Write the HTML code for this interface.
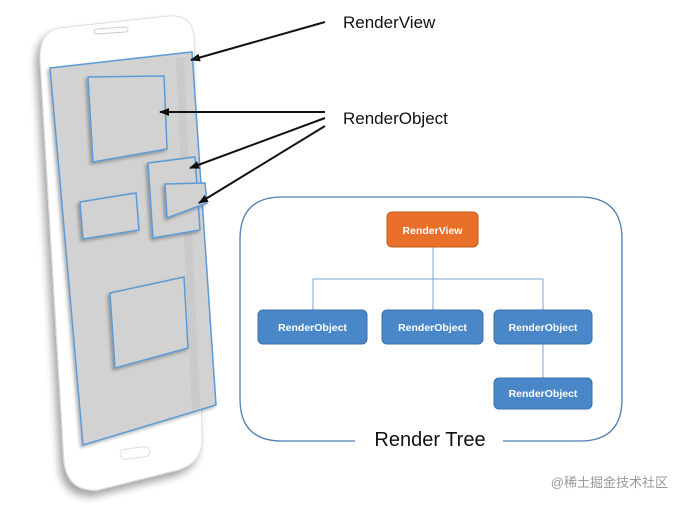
<!DOCTYPE html>
<html><head><meta charset="utf-8"><style>
html,body{margin:0;padding:0;background:#fff;}
svg{display:block;}
</style></head><body>
<svg width="681" height="505" viewBox="0 0 681 505" xmlns="http://www.w3.org/2000/svg" font-family="Liberation Sans, Arial, sans-serif">
<defs>
<filter id="sh" x="-20%" y="-20%" width="140%" height="140%"><feDropShadow dx="-4" dy="6" stdDeviation="4" flood-color="#000" flood-opacity="0.35"/></filter>
<filter id="s2" x="-20%" y="-20%" width="140%" height="140%"><feDropShadow dx="-2" dy="2" stdDeviation="1.5" flood-color="#000" flood-opacity="0.3"/></filter>
<marker id="ah" markerWidth="10" markerHeight="8" refX="9" refY="4" orient="auto" markerUnits="userSpaceOnUse"><path d="M0,0 L10,4 L0,8 Z" fill="#111"/></marker>
</defs>
<!-- phone body -->
<path d="M58,28 Q40,32 40,58 L64,462 Q68,492 98,490 L178,470 Q204,462 202,436 L194,36 Q192,14 168,16 Z" fill="#fff" stroke="#ddd" stroke-width="1" filter="url(#sh)"/>
<rect x="94" y="28" width="34" height="5" rx="2.5" fill="none" stroke="#ccc" transform="rotate(-4 111 30)"/>
<rect x="120" y="448" width="30" height="10" rx="5" fill="none" stroke="#ddd" transform="rotate(-8 135 453)"/>
<!-- screen -->
<polygon points="50,68 192,52 216,405 83,445" fill="#d2d2d2" stroke="#5b9bd5" stroke-width="1.5" filter="url(#s2)"/>
<polygon points="176,58 184,57 200,408 192,410" fill="#c4c4c4" opacity="0.6"/>
<polygon points="88,77 164,76 167,149 93,162" fill="#d2d2d2" stroke="#5b9bd5" stroke-width="1.5" filter="url(#s2)"/>
<polygon points="148,163 195,157 200,230 153,238" fill="#d2d2d2" stroke="#5b9bd5" stroke-width="1.5" filter="url(#s2)"/>
<polygon points="165,184 205,183 207,203 167,218" fill="#d2d2d2" stroke="#5b9bd5" stroke-width="1.5" filter="url(#s2)"/>
<polygon points="80,202 136,193 139,230 83,239" fill="#d2d2d2" stroke="#5b9bd5" stroke-width="1.5" filter="url(#s2)"/>
<polygon points="110,293 184,277 188,348 115,368" fill="#d2d2d2" stroke="#5b9bd5" stroke-width="1.5" filter="url(#s2)"/>
<!-- arrows -->
<g stroke="#111" stroke-width="2" fill="none">
<line x1="325" y1="22" x2="191" y2="60" marker-end="url(#ah)"/>
<line x1="325" y1="112" x2="160" y2="112" marker-end="url(#ah)"/>
<line x1="325" y1="118" x2="190" y2="168" marker-end="url(#ah)"/>
<line x1="325" y1="126" x2="199" y2="203" marker-end="url(#ah)"/>
</g>
<text x="343" y="28" font-size="17" fill="#111">RenderView</text>
<text x="343" y="124" font-size="17" fill="#111">RenderObject</text>
<!-- render tree frame -->
<path d="M355,441 L282,441 Q240,441 240,399 L240,239 Q240,197 282,197 L580,197 Q622,197 622,239 L622,399 Q622,441 580,441 L503,441" fill="none" stroke="#4f7fb0" stroke-width="1.3"/>
<text x="430" y="446" font-size="20" fill="#111" text-anchor="middle">Render Tree</text>
<g stroke="#7aa6d6" stroke-width="1" fill="none">
<line x1="433" y1="247" x2="433" y2="310"/>
<line x1="313" y1="279" x2="543" y2="279"/>
<line x1="313" y1="279" x2="313" y2="310"/>
<line x1="543" y1="279" x2="543" y2="310"/>
<line x1="543" y1="344" x2="543" y2="378"/>
</g>
<rect x="387" y="212" width="91" height="35" rx="5" fill="#e8702a" stroke="#c55a1a"/>
<text x="432.5" y="234" font-size="10.5" font-weight="bold" fill="#fff" text-anchor="middle">RenderView</text>
<g fill="#4a87c8" stroke="#3a70aa">
<rect x="258" y="310" width="109" height="34" rx="5"/>
<rect x="382" y="310" width="101" height="34" rx="5"/>
<rect x="494" y="310" width="98" height="34" rx="5"/>
<rect x="494" y="378" width="98" height="31" rx="5"/>
</g>
<g font-size="10.5" font-weight="bold" fill="#fff" text-anchor="middle">
<text x="312.5" y="331">RenderObject</text>
<text x="432.5" y="331">RenderObject</text>
<text x="543" y="331">RenderObject</text>
<text x="543" y="397">RenderObject</text>
</g>
<text x="668" y="487" font-size="13" fill="#999" text-anchor="end" font-family="Liberation Sans, Noto Sans CJK SC, sans-serif">@稀土掘金技术社区</text>
</svg>
</body></html>
